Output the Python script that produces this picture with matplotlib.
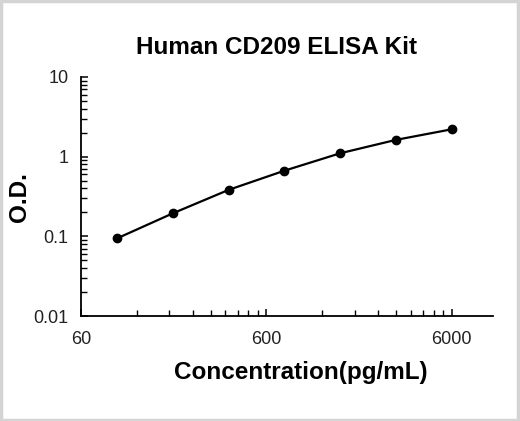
import matplotlib.pyplot as plt
from matplotlib.ticker import FixedLocator, FixedFormatter, LogLocator, NullFormatter
from matplotlib.patches import Rectangle

CONC = [93.75, 187.5, 375, 750, 1500, 3000, 6000]
OD = [0.094, 0.194, 0.382, 0.665, 1.10, 1.62, 2.20]

X_TICKS = [60, 600, 6000]
X_TICK_LABELS = ["60", "600", "6000"]
X_MINOR = [m * 60 for m in range(2, 10)] + [m * 600 for m in range(2, 10)]
Y_TICKS = [0.01, 0.1, 1, 10]
Y_TICK_LABELS = ["0.01", "0.1", "1", "10"]

plt.rcParams['font.family'] = ['Liberation Sans', 'DejaVu Sans']

fig = plt.figure(figsize=(5.2, 4.21), dpi=100, facecolor='white')
ax = fig.add_axes([0.1558, 0.2494, 0.792, 0.568])

ax.plot(CONC, OD, color='black', linewidth=1.6, marker='o', markersize=6)

ax.set_xscale('log')
ax.set_yscale('log')
ax.set_xlim(60, 10000)
ax.set_ylim(0.01, 10)

ax.xaxis.set_major_locator(FixedLocator(X_TICKS))
ax.xaxis.set_major_formatter(FixedFormatter(X_TICK_LABELS))
ax.xaxis.set_minor_locator(FixedLocator(X_MINOR))
ax.xaxis.set_minor_formatter(NullFormatter())
ax.yaxis.set_major_locator(FixedLocator(Y_TICKS))
ax.yaxis.set_major_formatter(FixedFormatter(Y_TICK_LABELS))
ax.yaxis.set_minor_locator(LogLocator(base=10, subs=range(2, 10)))
ax.yaxis.set_minor_formatter(NullFormatter())

for side in ['top', 'right']:
    ax.spines[side].set_visible(False)
for side in ['left', 'bottom']:
    ax.spines[side].set_linewidth(1.3)

ax.tick_params(which='major', direction='in', length=5, width=1.1,
               labelsize=13, labelcolor='#222222')
ax.tick_params(axis='x', which='major', pad=11)
ax.tick_params(axis='y', which='major', pad=9)
ax.tick_params(which='minor', direction='in', length=4, width=1.0)

fig.text(0.531, 0.888, "Human CD209 ELISA Kit", ha='center', va='center',
         fontsize=17.5, fontweight='bold')
fig.text(0.579, 0.116, "Concentration(pg/mL)", ha='center', va='center',
         fontsize=17.5, fontweight='bold')
fig.text(0.037, 0.532, "O.D.", ha='center', va='center', rotation=90,
         fontsize=17.5, fontweight='bold')

fig.patches.append(Rectangle((0.002, 0.003), 0.994, 0.994, transform=fig.transFigure,
                             fill=False, edgecolor='#d4d4d4', linewidth=2.5))

fig.savefig("out.png", dpi=100, facecolor='white')
